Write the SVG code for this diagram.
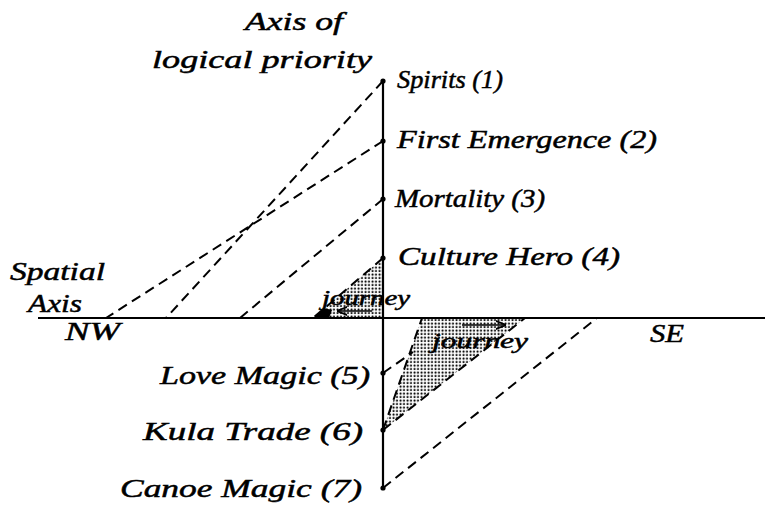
<svg xmlns="http://www.w3.org/2000/svg" width="765" height="513" viewBox="0 0 765 513">
<defs>
<pattern id="stip" width="3.5" height="3.5" patternUnits="userSpaceOnUse">
<rect width="3.5" height="3.5" fill="#fff"/>
<circle cx="1.5" cy="1.5" r="1.05" fill="#000"/>
</pattern>
<marker id="ah" viewBox="0 0 10 10" refX="9" refY="5" markerWidth="7" markerHeight="7" orient="auto">
<path d="M0,1 L10,5 L0,9" fill="none" stroke="#000" stroke-width="1.6"/>
</marker>
<style>
text{font-family:"Liberation Serif","DejaVu Serif",serif;font-style:italic;font-size:26px;fill:#000;stroke:#000;stroke-width:0.5}
.ax{stroke:#000;stroke-width:2.2;fill:none}
.dash{stroke:#000;stroke-width:2;stroke-dasharray:10,6;fill:none}
.pt{fill:#000}
.sm{font-size:20px}
</style>
</defs>
<rect width="765" height="513" fill="#fff"/>

<g id="shade">
<polygon points="383,258 383,318 313,318" fill="url(#stip)"/>
<polygon points="324,308 332,310 329,318 313,318" fill="#000"/>
<polygon points="383,430 422,318 525,318" fill="url(#stip)"/>
</g>

<g id="axes">
<line class="ax" x1="38" y1="318" x2="765" y2="318"/>
<line class="ax" x1="383" y1="81" x2="383" y2="490"/>
</g>

<g id="connectors">
<line class="dash" x1="383" y1="81" x2="166" y2="318"/>
<line class="dash" x1="383" y1="141" x2="106" y2="318"/>
<line class="dash" x1="383" y1="199" x2="240" y2="318"/>
<line class="dash" x1="383" y1="258" x2="313" y2="318"/>
<line class="dash" x1="383" y1="373" x2="413" y2="352"/>
<line class="dash" x1="383" y1="430" x2="422" y2="318"/>
<line class="dash" x1="383" y1="430" x2="525" y2="318"/>
<line class="dash" x1="383" y1="488" x2="597" y2="318"/>
<line stroke="#000" stroke-width="1.5" x1="372" y1="311" x2="338" y2="311" marker-end="url(#ah)"/>
<line stroke="#000" stroke-width="1.5" x1="462" y1="325" x2="505" y2="325" marker-end="url(#ah)"/>
</g>

<g id="title">
<text x="245" y="30" textLength="98" lengthAdjust="spacingAndGlyphs">Axis of</text>
<text x="152" y="68" textLength="220" lengthAdjust="spacingAndGlyphs">logical priority</text>
</g>
<g id="spatial">
<text x="10" y="280" textLength="95" lengthAdjust="spacingAndGlyphs">Spatial</text>
<text x="28" y="312" textLength="54" lengthAdjust="spacingAndGlyphs">Axis</text>
</g>
<g id="nw"><text x="65" y="340" textLength="55" lengthAdjust="spacingAndGlyphs">NW</text></g>
<g id="se"><text x="650" y="342" textLength="34" lengthAdjust="spacingAndGlyphs">SE</text></g>

<g id="n1"><circle class="pt" cx="383" cy="81" r="2.6"/><text x="397" y="88" textLength="106" lengthAdjust="spacingAndGlyphs">Spirits (1)</text></g>
<g id="n2"><circle class="pt" cx="383" cy="141" r="2.6"/><text x="397" y="148" textLength="260" lengthAdjust="spacingAndGlyphs">First Emergence (2)</text></g>
<g id="n3"><circle class="pt" cx="383" cy="199" r="2.6"/><text x="395" y="207" textLength="150" lengthAdjust="spacingAndGlyphs">Mortality (3)</text></g>
<g id="n4"><circle class="pt" cx="383" cy="258" r="2.6"/><text x="398" y="265" textLength="222" lengthAdjust="spacingAndGlyphs">Culture Hero (4)</text></g>
<g id="n5"><circle class="pt" cx="383" cy="373" r="2.6"/><text x="160" y="384" textLength="210" lengthAdjust="spacingAndGlyphs">Love Magic (5)</text></g>
<g id="n6"><circle class="pt" cx="383" cy="430" r="2.6"/><text x="143" y="440" textLength="220" lengthAdjust="spacingAndGlyphs">Kula Trade (6)</text></g>
<g id="n7"><circle class="pt" cx="383" cy="488" r="2.6"/><text x="120" y="497" textLength="242" lengthAdjust="spacingAndGlyphs">Canoe Magic (7)</text></g>

<g id="j1"><text class="sm" x="322" y="305" textLength="88" lengthAdjust="spacingAndGlyphs">journey</text></g>
<g id="j2"><text class="sm" x="432" y="348" textLength="96" lengthAdjust="spacingAndGlyphs">journey</text></g>
</svg>
